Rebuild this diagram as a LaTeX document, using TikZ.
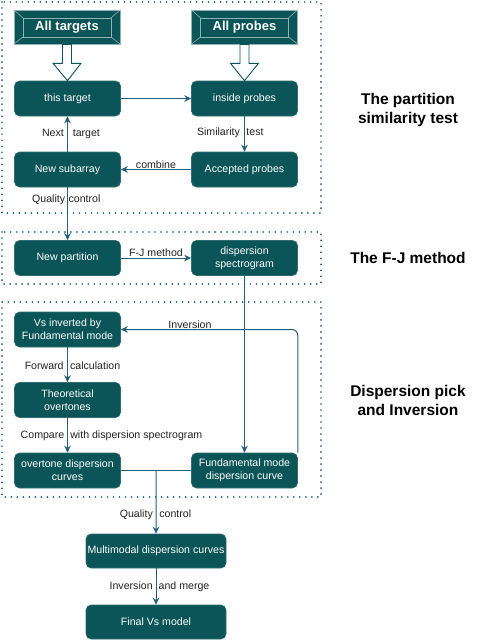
\documentclass[tikz,border=0pt]{standalone}
\usepackage{fontspec}
\setmainfont{Liberation Sans}
\usetikzlibrary{arrows.meta,calc}
\definecolor{boxfill}{HTML}{0B5458}
\definecolor{boxedge}{HTML}{2E6E70}
\definecolor{bevel}{HTML}{8DB3B3}
\definecolor{flow}{HTML}{22607A}
\definecolor{zonecol}{HTML}{1E5C7C}
\definecolor{lbltext}{HTML}{222222}
\begin{document}
\begin{tikzpicture}[x=1pt,y=-1pt,
    proc/.style={rectangle, rounded corners=5pt, fill=boxfill, draw=boxedge, line width=0.6pt,
        text=white, font=\fontsize{10.6}{12.7}\selectfont, align=center,
        minimum width=106pt, minimum height=35pt, inner sep=0pt},
    wide/.style={proc, minimum width=140pt, minimum height=34pt},
    src/.style={rectangle, fill=boxfill, draw=bevel, line width=0.6pt, text=white,
        font=\bfseries\fontsize{13}{15}\selectfont, minimum width=106pt, minimum height=34pt, inner sep=0pt,
        path picture={
            \coordinate (bnw) at (path picture bounding box.north west);
            \coordinate (bse) at (path picture bounding box.south east);
            \coordinate (bne) at (path picture bounding box.north east);
            \coordinate (bsw) at (path picture bounding box.south west);
            \draw[bevel, line width=0.6pt] ($(bnw)+(9,8)$) rectangle ($(bse)+(-9,-7)$);
            \draw[bevel, line width=0.6pt] (bnw) -- ($(bnw)+(9,8)$) (bne) -- ($(bne)+(-9,8)$)
                (bse) -- ($(bse)+(-9,-7)$) (bsw) -- ($(bsw)+(9,-7)$);
        }},
    lbl/.style={text=lbltext, font=\fontsize{10.6}{12.7}\selectfont, inner sep=0pt},
    ttl/.style={font=\bfseries\fontsize{15.5}{19}\selectfont, align=center},
    flowline/.style={draw=flow, line width=1pt},
    arr/.style={flowline, -{Stealth[length=7pt,width=6.5pt]}},
    zone/.style={draw=zonecol, line width=1.8pt, line cap=round, dash pattern=on 0.01pt off 6pt},
    hollow/.style={draw=boxfill, fill=white, line width=0.9pt, line join=miter}]
    \useasboundingbox (0,0) rectangle (480,641);

    \draw[zone] (2,2) rectangle (321,213);
    \draw[zone] (2,232) rectangle (321,284);
    \draw[zone] (2,302) rectangle (321,497);

    \node[src] (alltg) at (67,27) {All targets};
    \node[src] (allpr) at (244.5,27) {All probes};

    \node[proc] (thistg) at (67.5,98.5) {this target};
    \node[proc] (inpr) at (244.5,98.5) {inside probes};
    \node[proc] (newsub) at (67.5,169.5) {New subarray};
    \node[proc] (accpr) at (244.5,169.5) {Accepted probes};

    \node[proc] (newpart) at (67.5,258) {New partition};
    \node[proc] (dspec) at (244.5,258) {dispersion\\spectrogram};

    \node[proc] (vsinv) at (67.5,329.5) {Vs inverted by\\Fundamental mode};
    \node[proc] (theo) at (67.5,400) {Theoretical\\overtones};
    \node[proc] (ovt) at (67.5,470.5) {overtone dispersion\\curves};
    \node[proc] (fund) at (244.5,470.5) {Fundamental mode\\dispersion curve};

    \node[wide] (multi) at (156,551) {Multimodal dispersion curves};
    \node[wide] (final) at (156,622) {Final Vs model};

    \node[ttl] (t1) at (408,109.5) {The partition\\similarity test};
    \node[ttl] (t2) at (408,258) {The F-J method};
    \node[ttl] (t3) at (408,400) {Dispersion pick\\and Inversion};

    \draw[hollow] ($(alltg.south)+(-4.5,0)$) -- ($(alltg.south)+(4.5,0)$) -- ($(alltg.south)+(4.5,19)$)
        -- ($(alltg.south)+(14,19)$) -- (thistg.north) -- ($(alltg.south)+(-14,19)$)
        -- ($(alltg.south)+(-4.5,19)$) -- cycle;
    \draw[hollow] ($(allpr.south)+(-4.5,0)$) -- ($(allpr.south)+(4.5,0)$) -- ($(allpr.south)+(4.5,19)$)
        -- ($(allpr.south)+(14,19)$) -- (inpr.north) -- ($(allpr.south)+(-14,19)$)
        -- ($(allpr.south)+(-4.5,19)$) -- cycle;

    \draw[arr] (thistg) -- (inpr);
    \draw[arr] (inpr) -- (accpr);
    \draw[arr] (accpr) -- (newsub);
    \draw[arr] (newsub) -- (thistg);
    \draw[arr] (newsub) -- (newpart);
    \draw[arr] (newpart) -- (dspec);
    \draw[arr] (dspec) -- (fund);
    \draw[arr, rounded corners=6pt] (fund.north east) |- (vsinv.east);
    \draw[arr] (vsinv) -- (theo);
    \draw[arr] (theo) -- (ovt);
    \coordinate (mrg) at ($(ovt.east)!0.5!(fund.west)$);
    \draw[flowline] (ovt) -- (fund);
    \draw[arr] (mrg) -- (multi);
    \draw[arr] (multi) -- (final);

    \node[lbl] (lnext) at (71,134) {Next\hspace{9pt}target};
    \node[lbl] (lsim) at (230.3,133) {Similarity\hspace{6.5pt}test};
    \node[lbl] (lcomb) at (156,165) {combine};
    \node[lbl] (lqc) at (66.3,200) {Quality\hspace{3.5pt}control};
    \node[lbl] (lfj) at (156,253) {F-J method};
    \node[lbl] (linv) at (190,325) {Inversion};
    \node[lbl] (lfwd) at (72.5,366) {Forward\hspace{6.5pt}calculation};
    \node[lbl] (lcmp) at (111.5,436) {Compare\hspace{6pt}with dispersion spectrogram};
    \node[lbl] (lqc2) at (155.5,515) {Quality\hspace{6.5pt}control};
    \node[lbl] (linvm) at (159.5,587) {Inversion\hspace{6pt}and merge};
\end{tikzpicture}
\end{document}
